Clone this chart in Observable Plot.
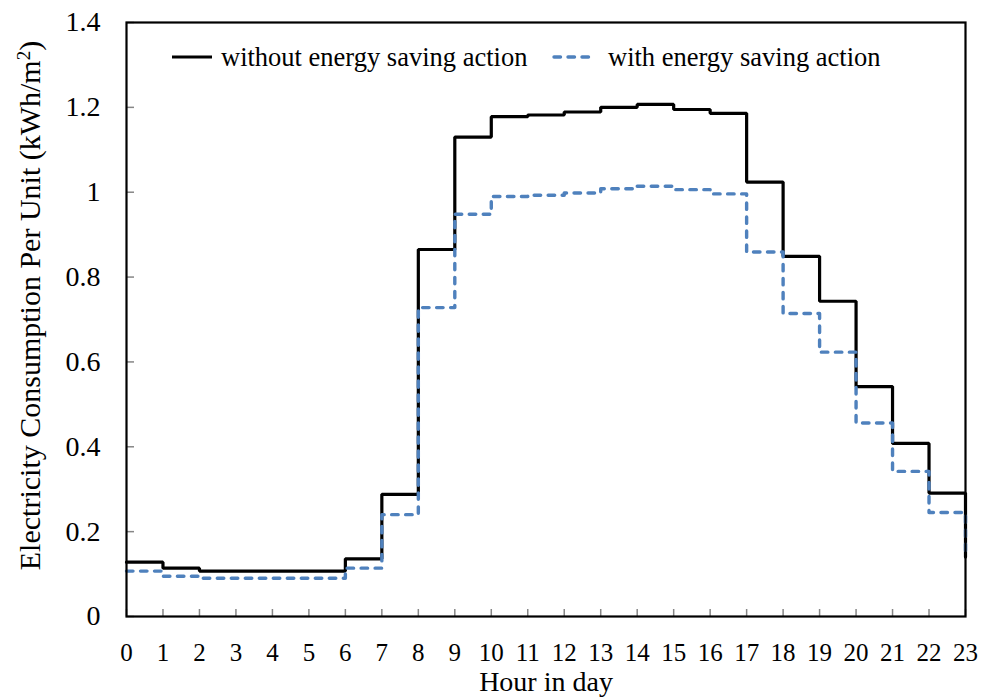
<!DOCTYPE html>
<html><head><meta charset="utf-8">
<script src="https://cdn.jsdelivr.net/npm/d3@7"></script>
<script src="https://cdn.jsdelivr.net/npm/@observablehq/plot@0.6"></script>
<style>
body{margin:0;background:#fff;}
#wrap{position:relative;width:984px;height:698px;font-family:"Liberation Serif","Times New Roman",serif;color:#000;}
.leg{position:absolute;display:flex;align-items:center;font-size:26.5px;white-space:nowrap;line-height:30px;}
</style></head>
<body><div id="wrap"></div>
<script>
const hours = [0,1,2,3,4,5,6,7,8,9,10,11,12,13,14,15,16,17,18,19,20,21,22,23];
const withoutSaving = [0.128,0.114,0.107,0.107,0.107,0.107,0.136,0.288,0.865,1.130,1.178,1.182,1.189,1.200,1.207,1.195,1.186,1.024,0.849,0.743,0.542,0.408,0.291,0.140];
const withSaving = [0.107,0.095,0.090,0.090,0.090,0.090,0.114,0.240,0.728,0.948,0.990,0.993,0.998,1.008,1.014,1.006,0.996,0.859,0.714,0.623,0.456,0.342,0.245,0.140];
const yTicks = [0,0.2,0.4,0.6,0.8,1.0,1.2,1.4];
const seriesNames = ["without energy saving action","with energy saving action"];
const xTitle = "Hour in day";
const yTitleMain = "Electricity Consumption Per Unit (kWh/m";
const yTitleSup = "2";
const yTitleEnd = ")";

const W = 984, H = 698, mL = 126, mR = 19, mT = 22, mB = 82;
const plotW = W - mL - mR, plotH = H - mT - mB;
const blue = "#4F81BD";

const dataA = hours.map((h,i)=>({h, v: withoutSaving[i]}));
const dataB = hours.map((h,i)=>({h, v: withSaving[i]}));

const chart = Plot.plot({
  width: W, height: H,
  marginLeft: mL, marginRight: mR, marginTop: mT, marginBottom: mB,
  style: {fontFamily: '"Liberation Serif","Times New Roman",serif', fontSize: "24px", color: "#000", background: "#fff", overflow: "visible"},
  x: {domain: [0, 23], ticks: hours},
  y: {domain: [0, 1.4], ticks: yTicks},
  marks: [
    Plot.axisY({ticks: yTicks, tickSize: 0, tickPadding: 26, fontSize: 28, label: null,
      tickFormat: d => String(+d.toFixed(1))}),
    Plot.axisX({ticks: hours, tickSize: 0, tickPadding: 27, fontSize: 25, label: null}),
    Plot.tickY(yTicks, {y: d => d, insetRight: plotW - 8, stroke: "#868686", strokeWidth: 1.5}),
    Plot.tickX(hours, {x: d => d, insetTop: plotH - 7, stroke: "#868686", strokeWidth: 1.5}),
    Plot.line(dataA, {x: "h", y: "v", curve: "step-after", stroke: "#000", strokeWidth: 3.2, strokeLinejoin: "miter"}),
    Plot.line(dataB, {x: "h", y: "v", curve: "step-after", stroke: blue, strokeWidth: 3.4,
      strokeDasharray: "6.5,7.5", strokeLinecap: "round", strokeLinejoin: "round"}),
    Plot.frame({stroke: "#000", strokeWidth: 2.2}),
    Plot.text([xTitle], {text: d => d, frameAnchor: "bottom", dy: 66, lineAnchor: "middle", fontSize: 28}),
    Plot.text([yTitleMain], {text: d => d, frameAnchor: "left", dx: -96, dy: -14, rotate: -90,
      lineAnchor: "middle", textAnchor: "middle", fontSize: 30, className: "ytitle"})
  ]
});

// superscript in y title
const yt = d3.select(chart).select(".ytitle text");
yt.text(null);
yt.append("tspan").text(yTitleMain);
yt.append("tspan").attr("baseline-shift", "super").attr("font-size", "19px").text(yTitleSup);
yt.append("tspan").text(yTitleEnd);

const wrap = document.getElementById("wrap");
wrap.appendChild(chart);

// legend (inside plot area, top)
function legendItem(left, gap, name, dashed){
  const d = document.createElement("div");
  d.className = "leg";
  d.style.left = left + "px";
  d.style.top = "42px";
  const s = d3.create("svg").attr("width", 40).attr("height", 10).style("margin-right", gap + "px");
  s.append("line").attr("x1", dashed ? 2 : 0).attr("x2", dashed ? 38 : 40).attr("y1", 5).attr("y2", 5)
    .attr("stroke", dashed ? blue : "#000").attr("stroke-width", dashed ? 3.4 : 3.2)
    .attr("stroke-dasharray", dashed ? "6.5,7.5" : null)
    .attr("stroke-linecap", dashed ? "round" : "butt");
  d.appendChild(s.node());
  const t = document.createElement("span");
  t.textContent = name;
  d.appendChild(t);
  wrap.appendChild(d);
}
legendItem(172, 9, seriesNames[0], false);
legendItem(552, 16, seriesNames[1], true);
</script>
</body></html>
